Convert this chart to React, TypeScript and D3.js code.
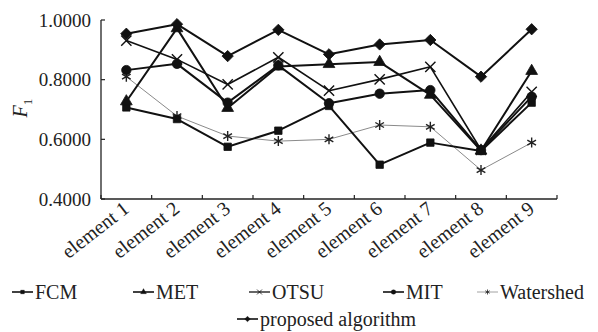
import * as React from "react";
import * as d3 from "d3";

const categories = ["element 1", "element 2", "element 3", "element 4", "element 5", "element 6", "element 7", "element 8", "element 9"];

const fcm = [0.707, 0.668, 0.575, 0.629, 0.712, 0.515, 0.589, 0.561, 0.723];
const met = [0.727, 0.972, 0.705, 0.844, 0.852, 0.859, 0.749, 0.562, 0.829];
const otsu = [0.931, 0.868, 0.784, 0.875, 0.763, 0.801, 0.843, 0.565, 0.759];
const mit = [0.832, 0.853, 0.723, 0.848, 0.721, 0.753, 0.765, 0.564, 0.743];
const watershed = [0.81, 0.678, 0.611, 0.594, 0.6, 0.648, 0.642, 0.497, 0.589];
const proposed = [0.954, 0.986, 0.879, 0.967, 0.885, 0.918, 0.933, 0.81, 0.969];

const yTicks = [0.4, 0.6, 0.8, 1.0];

const series = [
  { name: "Watershed", values: watershed, symbol: d3.symbolAsterisk, size: 70, rot: 0, stroke: "#8a8a8a", width: 1, filled: false, markColor: "#222" },
  { name: "FCM", values: fcm, symbol: d3.symbolSquare, size: 55, rot: 0, stroke: "#111", width: 2, filled: true, markColor: "#111" },
  { name: "MET", values: met, symbol: d3.symbolTriangle, size: 60, rot: 0, stroke: "#111", width: 2, filled: true, markColor: "#111" },
  { name: "OTSU", values: otsu, symbol: d3.symbolX, size: 70, rot: 0, stroke: "#111", width: 1.6, filled: false, markColor: "#111" },
  { name: "MIT", values: mit, symbol: d3.symbolCircle, size: 70, rot: 0, stroke: "#111", width: 2, filled: true, markColor: "#111" },
  { name: "proposed algorithm", values: proposed, symbol: d3.symbolSquare, size: 64, rot: 45, stroke: "#111", width: 2, filled: true, markColor: "#111" },
];

const legendItems = [
  { name: "FCM", x: 12, y: 292 },
  { name: "MET", x: 133, y: 292 },
  { name: "OTSU", x: 249, y: 292 },
  { name: "MIT", x: 383, y: 292 },
  { name: "Watershed", x: 477, y: 292 },
  { name: "proposed algorithm", x: 237, y: 319 },
];

const font = '"Liberation Serif", "DejaVu Serif", "Noto Serif", "Times New Roman", serif';
const txt: React.CSSProperties = { fontFamily: font };

const App: React.FC = () => {
  const width = 598;
  const height = 332;
  const margin = { left: 101, right: 41, top: 20, bottom: 133 };

  const x = d3.scaleBand<string>().domain(categories).range([margin.left, width - margin.right]).padding(0);
  const y = d3.scaleLinear().domain([0.4, 1.0]).range([height - margin.bottom, margin.top]);
  const cx = (c: string) => (x(c) || 0) + x.bandwidth() / 2;

  const line = d3
    .line<number>()
    .x((_, i) => cx(categories[i]))
    .y((d) => y(d));

  const y0 = y(0.4);
  const bounds = [...categories.map((c) => x(c) || 0), width - margin.right];

  return (
    <svg width={width} height={height} style={{ position: "absolute", left: 0, top: 0, background: "#fff", fontFamily: font }}>
      {/* axes */}
      <line x1={margin.left} x2={margin.left} y1={y(1)} y2={y0} stroke="#222" strokeWidth={1.3} />
      <line x1={margin.left} x2={width - margin.right} y1={y0} y2={y0} stroke="#222" strokeWidth={1.3} />
      {yTicks.map((t) => (
        <g key={t}>
          <line x1={margin.left} x2={margin.left + 4} y1={y(t)} y2={y(t)} stroke="#222" strokeWidth={1.2} />
          <text x={margin.left - 10} y={y(t)} dy="0.35em" textAnchor="end" fontSize={19} fill="#222" style={txt}>
            {t.toFixed(4)}
          </text>
        </g>
      ))}
      {bounds.map((b, i) => (
        <line key={i} x1={b} x2={b} y1={y0} y2={y0 - 4} stroke="#222" strokeWidth={1.2} />
      ))}
      {categories.map((c) => (
        <text
          key={c}
          transform={`translate(${cx(c) + 4},${y0 + 12}) rotate(-38)`}
          textAnchor="end"
          fontSize={20}
          fill="#222"
          style={txt}
        >
          {c}
        </text>
      ))}
      <text transform={`translate(27,${(y(1) + y0) / 2 + 8}) rotate(-90)`} fontSize={20} fill="#222" style={txt}>
        <tspan fontStyle="italic">F</tspan>
        <tspan fontSize={13} dy={5}>1</tspan>
      </text>

      {/* series */}
      {series.map((s) => (
        <g key={s.name}>
          <path d={line(s.values) || ""} fill="none" stroke={s.stroke} strokeWidth={s.width} strokeLinejoin="round" />
          {s.values.map((v, i) => (
            <path
              key={i}
              transform={`translate(${cx(categories[i])},${y(v)}) rotate(${s.rot})`}
              d={d3.symbol(s.symbol, s.size)() || ""}
              fill={s.filled ? s.markColor : "none"}
              stroke={s.markColor}
              strokeWidth={s.filled ? 0.8 : 1.4}
            />
          ))}
        </g>
      ))}

      {/* legend */}
      {legendItems.map((l) => {
        const s = series.find((d) => d.name === l.name)!;
        return (
          <g key={l.name} transform={`translate(${l.x},${l.y})`}>
            <line x1={0} x2={21} y1={0} y2={0} stroke={s.stroke} strokeWidth={s.width * 0.8} />
            <path
              transform={`translate(10.5,0) rotate(${s.rot})`}
              d={d3.symbol(s.symbol, s.size * 0.25)() || ""}
              fill={s.filled ? s.markColor : "none"}
              stroke={s.markColor}
              strokeWidth={s.filled ? 0.3 : 0.8}
            />
            <text x={23} y={0} dy="0.35em" fontSize={20} fill="#222" style={txt}>
              {l.name}
            </text>
          </g>
        );
      })}
    </svg>
  );
};

export default App;
